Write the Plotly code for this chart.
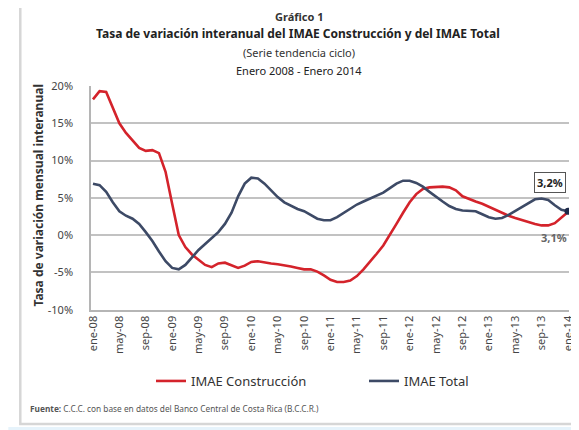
import plotly.graph_objects as go

# ---------------- data ----------------
meses = ["ene", "feb", "mar", "abr", "may", "jun", "jul", "ago", "sep", "oct", "nov", "dic"]
anios = ["08", "09", "10", "11", "12", "13", "14"]
categorias = [f"{m}-{a}" for a in anios for m in meses][:73]  # ene-08 ... ene-14

tick_labels = ["ene-08", "may-08", "sep-08", "ene-09", "may-09", "sep-09", "ene-10",
               "may-10", "sep-10", "ene-11", "may-11", "sep-11", "ene-12", "may-12",
               "sep-12", "ene-13", "may-13", "sep-13", "ene-14"]

imae_construccion = [
    18.2, 19.3, 19.2, 17.0, 15.0, 13.7, 12.7, 11.7, 11.3, 11.4, 11.0, 8.5,
    4.2, 0.0, -1.6, -2.6, -3.3, -4.0, -4.3, -3.8, -3.7, -4.1, -4.4, -4.1,
    -3.6, -3.5, -3.7, -3.8, -3.9, -4.0, -4.2, -4.4, -4.6, -4.6, -4.9, -5.4,
    -6.0, -6.3, -6.3, -6.1, -5.5, -4.6, -3.6, -2.5, -1.4, 0.0, 1.5, 3.0,
    4.4, 5.5, 6.2, 6.4, 6.5, 6.5, 6.4, 6.0, 5.2, 4.8, 4.5, 4.2,
    3.8, 3.3, 2.9, 2.6, 2.3, 2.0, 1.8, 1.5, 1.3, 1.3, 1.6, 2.3,
    3.1,
]

imae_total = [
    6.9, 6.7, 5.8, 4.4, 3.2, 2.6, 2.2, 1.5, 0.4, -0.8, -2.2, -3.5,
    -4.4, -4.6, -4.0, -3.0, -2.0, -1.2, -0.4, 0.4, 1.5, 3.0, 5.2, 6.9,
    7.7, 7.6, 6.9, 6.0, 5.1, 4.4, 3.9, 3.5, 3.2, 2.7, 2.2, 2.0,
    2.0, 2.4, 3.0, 3.6, 4.1, 4.5, 4.9, 5.2, 5.7, 6.3, 6.9, 7.3,
    7.3, 7.0, 6.5, 5.8, 5.1, 4.5, 3.9, 3.5, 3.3, 3.3, 3.2, 2.8,
    2.4, 2.2, 2.3, 2.7, 3.2, 3.7, 4.3, 4.8, 4.9, 4.7, 4.0, 3.4,
    3.2,
]

y_ticks = [-10, -5, 0, 5, 10, 15, 20]
y_tick_text = ["-10%", "-5%", "0%", "5%", "10%", "15%", "20%"]

# ---------------- figure ----------------
W, H = 579, 430
L, R, T, B = 83, 16, 78, 127
pw, ph = W - L - R, H - T - B


def px(x):
    return (x - L) / pw


def py(y):
    return (H - B - y) / ph


RED = "#d4232b"
BLUE = "#3d4a66"
FONT = "Noto Sans"

fig = go.Figure()
fig.add_trace(go.Scatter(x=categorias, y=imae_construccion, mode="lines",
                         name="IMAE Construcción", line=dict(color=RED, width=2.6),
                         legend="legend"))
fig.add_trace(go.Scatter(x=categorias, y=imae_total, mode="lines",
                         name="IMAE Total", line=dict(color=BLUE, width=2.6),
                         legend="legend2"))
fig.add_trace(go.Scatter(x=[categorias[-1]], y=[imae_total[-1]], mode="markers",
                         marker=dict(color="#1f2a4a", size=7), showlegend=False))

fig.update_layout(
    width=W, height=H,
    margin=dict(l=L, r=R, t=T, b=B),
    paper_bgcolor="white", plot_bgcolor="white",
    font=dict(family=FONT, color="#444"),
    legend=dict(orientation="h", xref="container", yref="container",
                x=143 / W, y=1 - 373 / H, xanchor="left", yanchor="middle",
                font=dict(size=13, color="#333"), itemwidth=30,
                bgcolor="rgba(0,0,0,0)"),
    legend2=dict(orientation="h", xref="container", yref="container",
                 x=356 / W, y=1 - 373 / H, xanchor="left", yanchor="middle",
                 font=dict(size=13, color="#333"), itemwidth=30,
                 bgcolor="rgba(0,0,0,0)"),
    xaxis=dict(
        type="category", range=[-0.3, 72.15],
        tickmode="array", tickvals=categorias[::4], ticktext=tick_labels,
        tickangle=-90, tickfont=dict(size=11, color="#444"),
        showgrid=False, showline=True, linecolor="#b5b5b5", linewidth=1.5,
        ticks="", zeroline=False,
    ),
    yaxis=dict(
        range=[-10, 20], tickvals=y_ticks, ticktext=y_tick_text,
        tickfont=dict(size=11, color="#444"),
        showgrid=True, gridcolor="#c2c2c2", gridwidth=1.5,
        zeroline=False, showline=True, linecolor="#b5b5b5", linewidth=1.5,
        ticks="", ticklabelstandoff=14,
    ),
)

shapes = [
    # outer frame
    dict(type="rect", xref="paper", yref="paper",
         x0=px(12), x1=px(577), y0=py(418), y1=py(-5),
         line=dict(color="#d6d6d6", width=2.5), fillcolor="rgba(0,0,0,0)", layer="below"),
    # light blue strip at the very bottom
    dict(type="rect", xref="paper", yref="paper",
         x0=px(0), x1=px(579), y0=py(430), y1=py(421),
         line=dict(width=0), fillcolor="#e6f3fb", layer="below"),
]
fig.update_layout(shapes=shapes)

ann = []
ann.append(dict(text="<b>Gráfico 1</b>", x=px(292), y=py(8), xref="paper", yref="paper",
                showarrow=False, font=dict(size=11, color="#333"), yanchor="middle"))
ann.append(dict(text="<b>Tasa de variación interanual del IMAE Construcción y del IMAE Total</b>",
                x=px(291), y=py(25), xref="paper", yref="paper", showarrow=False,
                font=dict(size=12, color="#222"), yanchor="middle"))
ann.append(dict(text="(Serie tendencia ciclo)", x=px(292), y=py(44), xref="paper", yref="paper",
                showarrow=False, font=dict(size=11, color="#333"), yanchor="middle"))
ann.append(dict(text="Enero 2008 - Enero 2014", x=px(292), y=py(62), xref="paper", yref="paper",
                showarrow=False, font=dict(size=11, color="#222"), yanchor="middle"))
ann.append(dict(text="<b>Tasa de variación mensual interanual</b>", x=px(30), y=py(188),
                xref="paper", yref="paper", showarrow=False, textangle=-90,
                font=dict(size=12, color="#333"), xanchor="center", yanchor="middle"))
ann.append(dict(text="<b>3,2%</b>", x=px(560), y=py(175), xref="paper", yref="paper",
                showarrow=False, font=dict(size=11, color="#222"), bgcolor="white",
                bordercolor="#555", borderwidth=1, borderpad=2))
ann.append(dict(text="<b>3,1%</b>", x=px(563), y=py(240), xref="paper", yref="paper",
                showarrow=False, font=dict(size=11, color="#666")))
ann.append(dict(text="<b>Fuente:</b> C.C.C. con base en datos del Banco Central de Costa Rica (B.C.C.R.)",
                x=px(20), y=py(402), xref="paper", yref="paper", showarrow=False,
                xanchor="left", yanchor="middle", font=dict(size=8.3, color="#555")))
fig.update_layout(annotations=ann)

fig.write_html("out.html")
